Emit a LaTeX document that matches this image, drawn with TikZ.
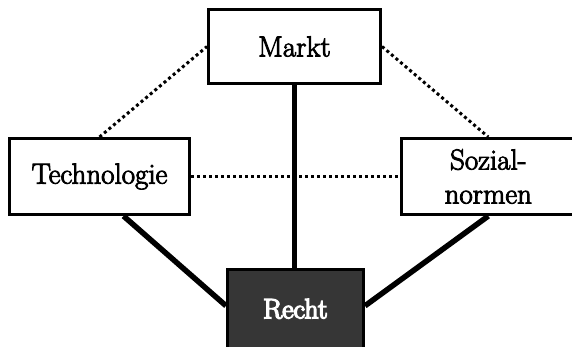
\documentclass[tikz,border=0pt]{standalone}
\usepackage{fontspec}
\newfontfamily\lblfont{Latin Modern Roman}[FakeBold=3]
\newfontfamily\lblfontb{Latin Modern Roman}[FakeBold=5]
\definecolor{rechtfill}{HTML}{363636}
\tikzset{
  boxnode/.style={draw=black, line width=3pt, fill=white, inner sep=0pt,
    align=center, font=\lblfont\fontsize{29}{35}\selectfont},
  darkbox/.style={boxnode, fill=rechtfill, text=white,
    font=\lblfontb\fontsize{28}{35}\selectfont},
  strong/.style={line width=5.5pt},
  weak/.style={line width=3pt, dash pattern=on 3pt off 3pt}
}
\begin{document}
\begin{tikzpicture}[x=1pt,y=-1pt]
\useasboundingbox (0,0) rectangle (572,346);
\coordinate (mk) at (294.5,46.5);
\coordinate (tc) at (99.5,176.5);
\coordinate (sc) at (488.3,176.5);
\coordinate (rc) at (295.5,308.8);
\node[boxnode, minimum width=172pt, minimum height=74pt] (markt) at (mk) {Markt};
\node[boxnode, minimum width=180pt, minimum height=76pt] (tech) at (tc) {Technologie};
\node[boxnode, minimum width=173.5pt, minimum height=76pt] (soz) at (sc) {Sozial-\\[-1pt]normen};
\node[darkbox, minimum width=136pt, minimum height=78.5pt] (recht) at (rc) {Recht};
\draw[weak] (tech.north) -- (markt.west);
\draw[weak] (markt.east) -- (soz.north);
\draw[weak] (tech.east) -- (soz.west);
\draw[strong] (markt.south) -- (markt.south |- recht.north);
\draw[strong] ([xshift=24pt]tech.south) -- ([yshift=3pt]recht.west);
\draw[strong] (soz.south) -- ([yshift=3pt]recht.east);
\end{tikzpicture}
\end{document}
